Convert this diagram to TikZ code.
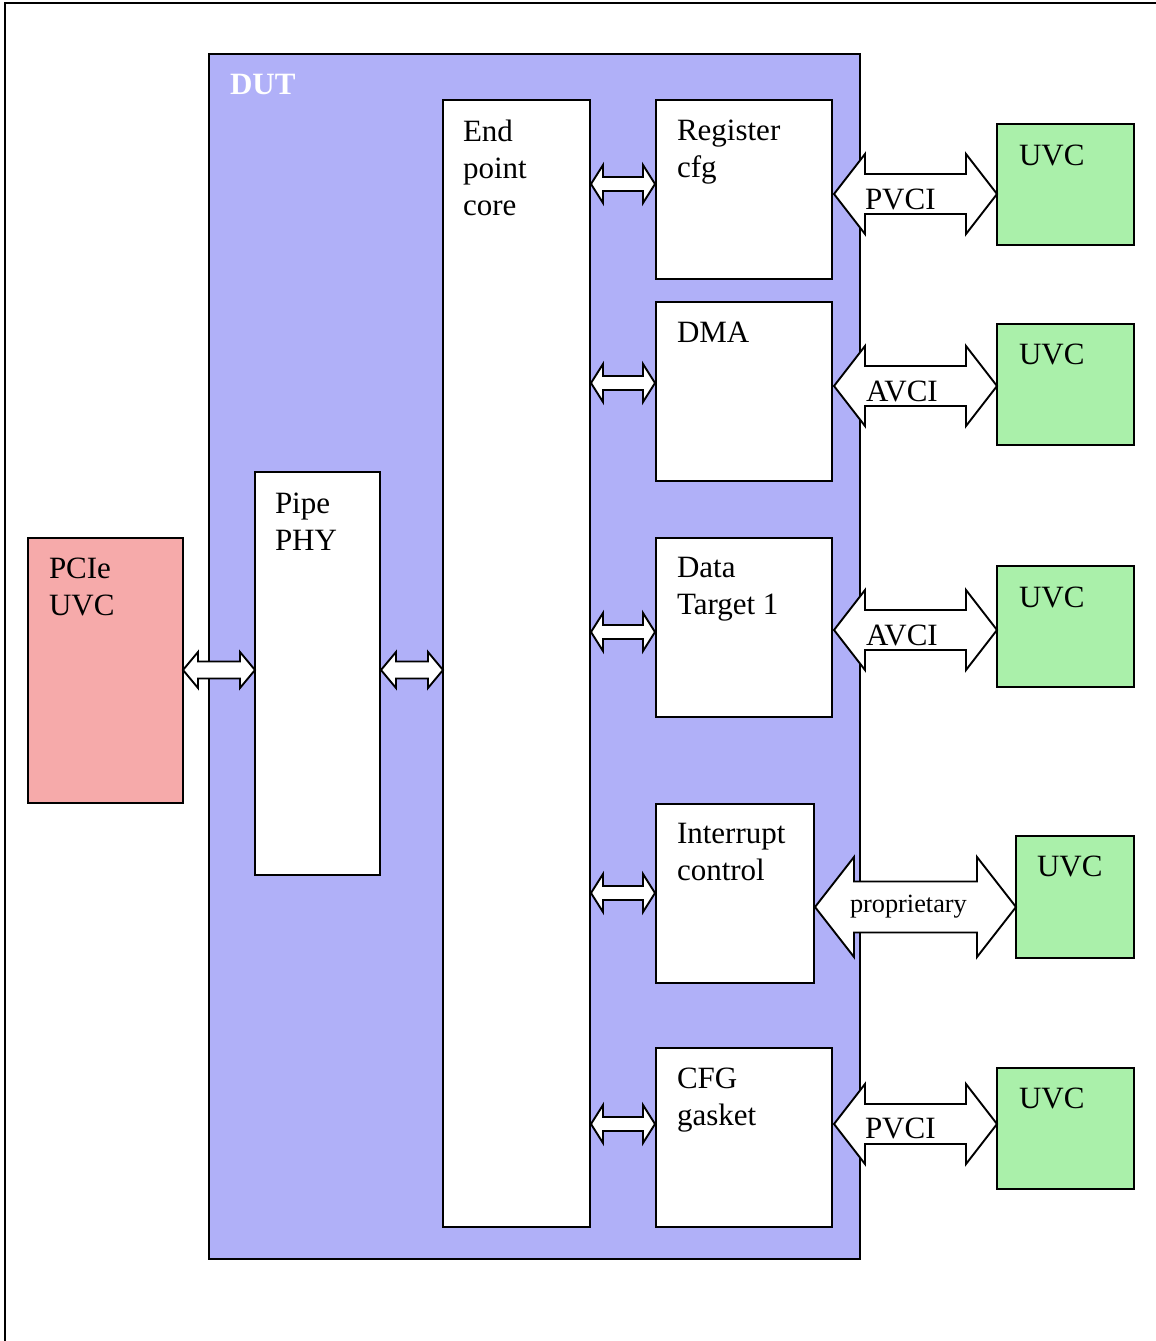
\documentclass[tikz,border=0pt]{standalone}
\usepackage{fontspec}
\setmainfont{Liberation Serif}
\definecolor{dutblue}{RGB}{176,176,248}
\definecolor{pcired}{RGB}{246,170,170}
\definecolor{uvcgreen}{RGB}{170,240,170}
\newcommand\dbl[6]{\draw[arr] (#1,#3) -- ({#1+#6},{#3-#5}) -- ({#1+#6},{#3-#4}) -- ({#2-#6},{#3-#4}) -- ({#2-#6},{#3-#5}) -- (#2,#3) -- ({#2-#6},{#3+#5}) -- ({#2-#6},{#3+#4}) -- ({#1+#6},{#3+#4}) -- ({#1+#6},{#3+#5}) -- cycle;}
\begin{document}
\begin{tikzpicture}[x=1pt,y=-1pt,
  box/.style={draw=black, line width=1.9pt, fill=white, inner sep=0pt, outer sep=0pt, anchor=north west},
  txt/.style={inner sep=0pt, outer sep=0pt, anchor=north west, align=left, font=\fontsize{31}{37}\selectfont},
  lbl/.style={inner sep=0pt, outer sep=0pt, anchor=base west, font=\fontsize{31}{37}\selectfont},
  arr/.style={draw=black, line width=1.9pt, fill=white, line join=miter}]
\useasboundingbox (0,0) rectangle (1156,1341);
\draw[line width=2.4pt] (5,1341) -- (5,3) -- (1156,3);
% DUT
\node[box, fill=dutblue, minimum width=651pt, minimum height=1205pt] (dut) at (209,54) {};
\node[txt, font=\fontsize{31}{37}\selectfont\bfseries, text=white] (dutlbl) at (230,74) {DUT};
% blocks
\node[box, minimum width=147pt, minimum height=1127pt] (core) at (443,100) {};
\node[box, minimum width=125pt, minimum height=403pt] (pipe) at (255,472) {};
\node[box, fill=pcired, minimum width=155pt, minimum height=265pt] (pcie) at (28,538) {};
\node[box, minimum width=176pt, minimum height=179pt] (reg) at (656,100) {};
\node[box, minimum width=176pt, minimum height=179pt] (dma) at (656,302) {};
\node[box, minimum width=176pt, minimum height=179pt] (dt) at (656,538) {};
\node[box, minimum width=158pt, minimum height=179pt] (intr) at (656,804) {};
\node[box, minimum width=176pt, minimum height=179pt] (cfg) at (656,1048) {};
\node[box, fill=uvcgreen, minimum width=137pt, minimum height=121pt] (u1) at (997,124) {};
\node[box, fill=uvcgreen, minimum width=137pt, minimum height=121pt] (u2) at (997,324) {};
\node[box, fill=uvcgreen, minimum width=137pt, minimum height=121pt] (u3) at (997,566) {};
\node[box, fill=uvcgreen, minimum width=118pt, minimum height=122pt] (u4) at (1016,836) {};
\node[box, fill=uvcgreen, minimum width=137pt, minimum height=121pt] (u5) at (997,1068) {};
% texts
\node[txt] (tcore) at (463,119.5) {End\\point\\core};
\node[txt] (treg) at (677,119.5) {Register\\cfg};
\node[txt] (tdma) at (677,322.5) {DMA};
\node[txt] (tdt) at (677,557.5) {Data\\Target 1};
\node[txt] (tintr) at (677,823.5) {Interrupt\\control};
\node[txt] (tcfg) at (677,1067.5) {CFG\\gasket};
\node[txt] (tpipe) at (275,492.5) {Pipe\\PHY};
\node[txt] (tpcie) at (49,557.5) {PCIe\\UVC};
\node[txt] (tu1) at (1019,144.5) {UVC};
\node[txt] (tu2) at (1019,343.5) {UVC};
\node[txt] (tu3) at (1019,586.5) {UVC};
\node[txt] (tu4) at (1037,855.5) {UVC};
\node[txt] (tu5) at (1019,1087.5) {UVC};
% small arrows core <-> blocks
\dbl{591}{655}{184}{7}{19}{12}
\dbl{591}{655}{383}{7}{19}{12}
\dbl{591}{655}{632}{7}{19}{12}
\dbl{591}{655}{893}{7}{19}{12}
\dbl{591}{655}{1124}{7}{19}{12}
% left arrows
\dbl{183}{255}{670}{8.5}{18}{15}
\dbl{381}{443}{670}{8.5}{18}{15}
% big arrows
\dbl{834}{997}{194}{20}{40}{31}
\dbl{834}{997}{386}{20}{40}{31}
\dbl{834}{997}{630}{20}{40}{31}
\dbl{815}{1016}{907}{25.5}{50}{39}
\dbl{834}{997}{1124}{20}{40}{31}
% arrow labels
\node[lbl] (l1) at (865,209) {PVCI};
\node[lbl] (l2) at (866,401) {AVCI};
\node[lbl] (l3) at (866,645) {AVCI};
\node[lbl, font=\fontsize{26.3}{30}\selectfont] (l4) at (850,912) {proprietary};
\node[lbl] (l5) at (865,1138) {PVCI};
\end{tikzpicture}
\end{document}
